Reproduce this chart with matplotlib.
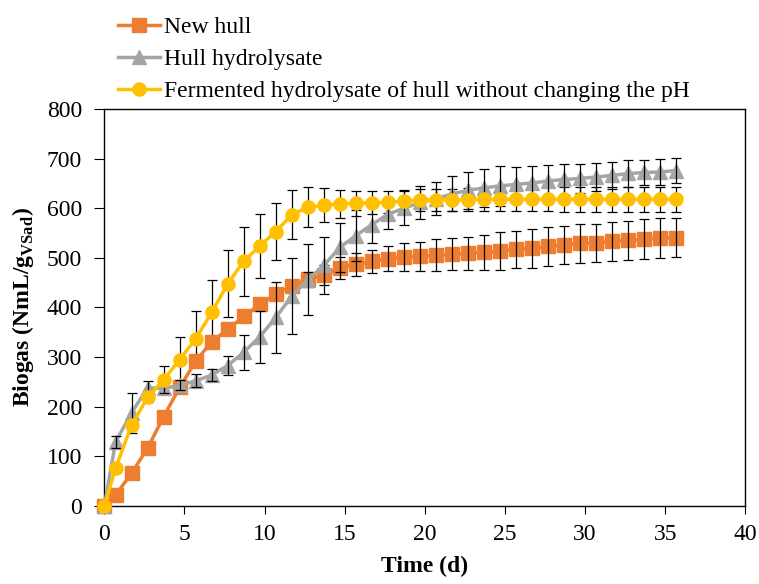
import matplotlib
matplotlib.use('Agg')
import matplotlib.pyplot as plt

plt.rcParams['font.family'] = 'Liberation Serif'
plt.rcParams['font.size'] = 17
plt.rcParams['mathtext.fontset'] = 'custom'
plt.rcParams['mathtext.rm'] = 'Liberation Serif'
plt.rcParams['mathtext.bf'] = 'Liberation Serif:bold'

# sampling days
days = [0, 0.7, 1.7, 2.7, 3.7, 4.7, 5.7, 6.7, 7.7, 8.7, 9.7, 10.7, 11.7, 12.7,
        13.7, 14.7, 15.7, 16.7, 17.7, 18.7, 19.7, 20.7, 21.7, 22.7, 23.7, 24.7,
        25.7, 26.7, 27.7, 28.7, 29.7, 30.7, 31.7, 32.7, 33.7, 34.7, 35.7]

# cumulative biogas (NmL/g VSad)
new_hull = [0, 22, 66, 117, 180, 239, 292, 331, 356, 382, 406, 427, 443, 457,
            465, 480, 487, 493, 498, 502, 503, 505, 507, 509, 511, 514,
            517, 519, 523, 526, 529, 530, 533, 535, 538, 540, 541]
new_hull_err = [0, 0, 0, 0, 0, 0, 0, 0, 0, 0, 0, 0, 0, 15,
                20, 22, 23, 23, 25, 28, 29, 32, 32, 33, 36, 38,
                38, 39, 39, 39, 39, 39, 39, 39, 40, 40, 39]

hydrolysate = [0, 129, 188, 238, 237, 243, 252, 264, 283, 310, 341, 380, 423, 456,
               485, 521, 545, 567, 588, 600, 612, 619, 629, 636, 641, 645,
               648, 651, 655, 658, 660, 663, 666, 670, 672, 673, 676]
hydrolysate_err = [0, 13, 40, 13, 10, 10, 13, 13, 20, 35, 52, 72, 77, 72,
                   58, 50, 52, 38, 30, 34, 33, 33, 35, 37, 38, 40,
                   35, 34, 33, 31, 30, 28, 27, 27, 26, 26, 26]

fermented = [0, 76, 163, 219, 254, 295, 337, 390, 448, 493, 524, 553, 587, 602,
             606, 609, 610, 611, 612, 614, 617, 617, 617, 617, 618, 618,
             618, 618, 618, 618, 618, 618, 618, 618, 618, 618, 618]
fermented_err = [0, 5, 10, 10, 29, 45, 56, 65, 68, 70, 65, 58, 50, 40,
                 34, 28, 25, 23, 22, 22, 22, 22, 22, 23, 24, 24,
                 24, 24, 24, 25, 25, 25, 25, 25, 25, 25, 25]

labels = ['New hull', 'Hull hydrolysate',
          'Fermented hydrolysate of hull without changing the pH']
colors = ['#ED7D31', '#A5A5A5', '#FFC000']
markers = ['s', '^', 'o']

fig = plt.figure(figsize=(7.59, 5.84), dpi=100)
ax = fig.add_axes([0.1375, 0.1336, 0.8445, 0.6798])

series = [(new_hull, new_hull_err), (hydrolysate, hydrolysate_err),
          (fermented, fermented_err)]
for i, (vals, err) in enumerate(series):
    ax.plot(days, vals, color=colors[i], marker=markers[i], markersize=9.5,
            linewidth=2.5, label=labels[i], zorder=3 + 2 * i, clip_on=False)
    # only points that actually have a visible error bar
    keep = [j for j in range(len(err)) if err[j] > 0]
    ax.errorbar([days[j] for j in keep], [vals[j] for j in keep],
                yerr=[err[j] for j in keep], fmt='none', ecolor='black',
                elinewidth=0.9, capsize=3.5, capthick=0.9,
                zorder=4 + 2 * i if i < 2 else 2)

ax.set_xlim(0, 40)
ax.set_ylim(0, 800)
ax.set_xticks(range(0, 41, 5))
ax.set_yticks(range(0, 801, 100))
ax.tick_params(axis='x', length=6, pad=7)
ax.tick_params(axis='y', length=7, pad=9)
for s in ax.spines.values():
    s.set_linewidth(1.0)

ax.set_xlabel('Time (d)', fontweight='bold', labelpad=8)
ax.set_ylabel(r'Biogas (NmL/g$_{\mathbf{VSad}}$)', fontweight='bold', labelpad=8)

fig.legend(loc='upper left', bbox_to_anchor=(0.155, 0.972), frameon=False,
           borderpad=0, borderaxespad=0, labelspacing=0.45,
           handlelength=1.8, handletextpad=0.15)

fig.savefig('out.png', dpi=100)
